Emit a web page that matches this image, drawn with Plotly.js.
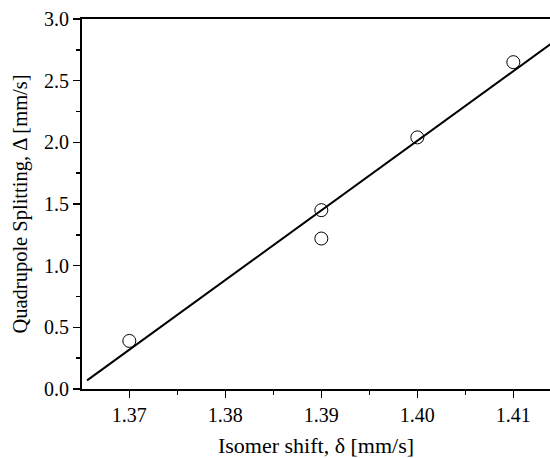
<!DOCTYPE html>
<html>
<head>
<meta charset="utf-8">
<script src="https://cdn.plot.ly/plotly-3.0.1.min.js"></script>
<style>html,body{margin:0;padding:0;background:#fff;}#chart{width:550px;height:458px;}</style>
</head>
<body>
<div id="chart"></div>
<script>
// Measured points
const isomerShift = [1.37, 1.39, 1.39, 1.40, 1.41];
const quadSplit = [0.39, 1.45, 1.22, 2.04, 2.65];
// Linear fit line endpoints
const fitX = [1.3656, 1.4150];
const fitY = [0.07, 2.86];
const xTicks = [1.37, 1.38, 1.39, 1.40, 1.41];
const yTicks = [0.0, 0.5, 1.0, 1.5, 2.0, 2.5, 3.0];

const font = {family: '"Liberation Serif", "Times New Roman", serif', color: '#000'};

const traces = [
  {x: fitX, y: fitY, mode: 'lines', type: 'scatter', line: {color: '#000', width: 2}, hoverinfo: 'skip'},
  {x: isomerShift, y: quadSplit, mode: 'markers', type: 'scatter',
   marker: {symbol: 'circle-open', size: 13, color: '#000', line: {width: 1, color: '#000'}}}
];

const layout = {
  width: 550, height: 458,
  margin: {l: 82, r: 0, t: 19, b: 69},
  paper_bgcolor: '#fff', plot_bgcolor: '#fff',
  showlegend: false,
  font: Object.assign({size: 20}, font),
  xaxis: {
    range: [1.36507, 1.41382],
    tickvals: xTicks, ticktext: xTicks.map(v => v.toFixed(2)),
    ticks: 'outside', ticklen: 7, tickwidth: 1.5, tickcolor: '#000',
    minor: {tickvals: [1.375, 1.385, 1.395, 1.405], ticks: 'outside', ticklen: 4, tickwidth: 1.5, tickcolor: '#000'},
    showline: true, linewidth: 2, linecolor: '#000', mirror: true,
    showgrid: false, zeroline: false,
    tickfont: Object.assign({size: 20}, font),
    title: {text: 'Isomer shift, δ [mm/s]', font: Object.assign({size: 22}, font), standoff: 14}
  },
  yaxis: {
    range: [0, 3],
    tickvals: yTicks, ticktext: yTicks.map(v => v.toFixed(1)),
    ticks: 'outside', ticklen: 7, tickwidth: 1.5, tickcolor: '#000',
    minor: {tickvals: [0.25, 0.75, 1.25, 1.75, 2.25, 2.75], ticks: 'outside', ticklen: 4, tickwidth: 1.5, tickcolor: '#000'},
    showline: true, linewidth: 2, linecolor: '#000',
    showgrid: false, zeroline: false,
    tickfont: Object.assign({size: 20}, font),
    title: {text: 'Quadrupole Splitting, Δ [mm/s]', font: Object.assign({size: 20.5}, font), standoff: 11}
  }
};

Plotly.newPlot('chart', traces, layout, {displayModeBar: false, staticPlot: true});
</script>
</body>
</html>
